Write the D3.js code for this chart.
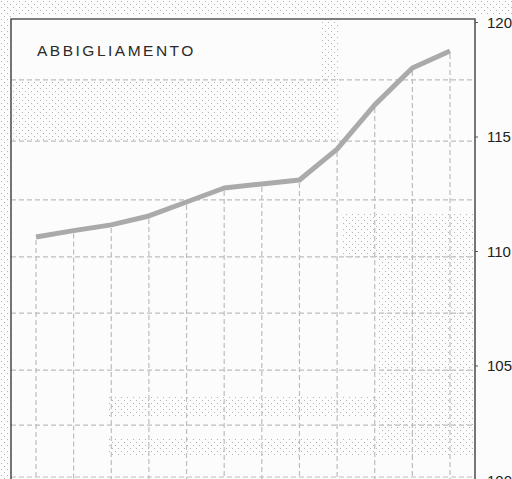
<!DOCTYPE html>
<html><head><meta charset="utf-8">
<script src="https://cdn.jsdelivr.net/npm/d3@7"></script>
<style>html,body{margin:0;padding:0;background:#fff;}svg{display:block;}</style>
</head><body>
<svg id="chart" width="512" height="479"></svg>
<script>
// ---- data ----
const months = ["gen","feb","mar","apr","mag","giu","lug","ago","set","ott","nov","dic"];
const values = [110.61,110.89,111.14,111.53,112.14,112.75,112.93,113.10,114.45,116.38,117.99,118.73];
const tickValues = [100,105,110,115,120];
const gridValues = [117.47,114.80,112.23,109.74,107.29,104.80,102.40,100.13];
const title = "ABBIGLIAMENTO";

const W = 512, H = 479;
const svg = d3.select("#chart");
const frameL = 11, frameR = 475, frameT = 19;

const x = d3.scalePoint().domain(months).range([36, 450]);
const y = d3.scaleLinear().domain([100,120]).range([480, 22]);

// halftone pattern
const defs = svg.append("defs");
const pat = defs.append("pattern").attr("id","dots").attr("patternUnits","userSpaceOnUse")
  .attr("width",6).attr("height",6);
pat.append("rect").attr("x",1).attr("y",1).attr("width",1).attr("height",1).attr("fill","#b4b4b4");
pat.append("rect").attr("x",4).attr("y",4).attr("width",1).attr("height",1).attr("fill","#b4b4b4");

svg.append("rect").attr("width",W).attr("height",H).attr("fill","#fcfcfc");

// dotted shaded regions (layout decoration)
const shade = (x0,y0,x1,y1)=>svg.append("rect").attr("x",x0).attr("y",y0)
  .attr("width",x1-x0).attr("height",y1-y0).attr("fill","url(#dots)");
shade(0,0,W,14);
shade(0,0,frameL,H);
shade(frameL,y(gridValues[0]),340,y(gridValues[1]));
shade(320,frameT,340,y(gridValues[0]));
shade(341,213,frameR,y(gridValues[3]));
shade(379,213,frameR,457);
shade(107,397,379,417);
shade(107,437,379,457);

// horizontal gridlines
svg.append("g").selectAll("line").data(gridValues).join("line")
  .attr("x1",frameL).attr("x2",frameR)
  .attr("y1",d=>y(d)).attr("y2",d=>y(d))
  .attr("stroke","#bdbdbd").attr("stroke-width",1.2).attr("stroke-dasharray","5,3");

// drop lines
svg.append("g").selectAll("line").data(values).join("line")
  .attr("x1",(d,i)=>x(months[i])).attr("x2",(d,i)=>x(months[i]))
  .attr("y1",d=>y(d)+3).attr("y2",H)
  .attr("stroke","#bdbdbd").attr("stroke-width",1.2).attr("stroke-dasharray","5,3");

// data line
svg.append("path").datum(values)
  .attr("d", d3.line().x((d,i)=>x(months[i])).y(d=>y(d)))
  .attr("fill","none").attr("stroke","#aaaaaa").attr("stroke-width",5)
  .attr("stroke-linejoin","round");

// frame
svg.append("path")
  .attr("d",`M${frameL},${H}V${frameT}H${frameR}V${H}`)
  .attr("fill","none").attr("stroke","#555").attr("stroke-width",1.6);

// right axis
const ax = svg.append("g").attr("transform",`translate(${frameR},0)`)
  .call(d3.axisRight(y).tickValues(tickValues).tickSize(3).tickPadding(9));
ax.select(".domain").remove();
ax.selectAll(".tick line").attr("stroke","#555");
ax.selectAll("text").attr("font-family","Liberation Sans, Arial, sans-serif")
  .attr("font-size",15).attr("fill","#222").attr("dy","0.36em");

// title
svg.append("text").attr("x",37).attr("y",56).text(title)
  .attr("font-family","Liberation Sans, Arial, sans-serif").attr("font-size",15.5)
  .attr("letter-spacing",2.5).attr("fill","#2a2a2a");
</script>
</body></html>
